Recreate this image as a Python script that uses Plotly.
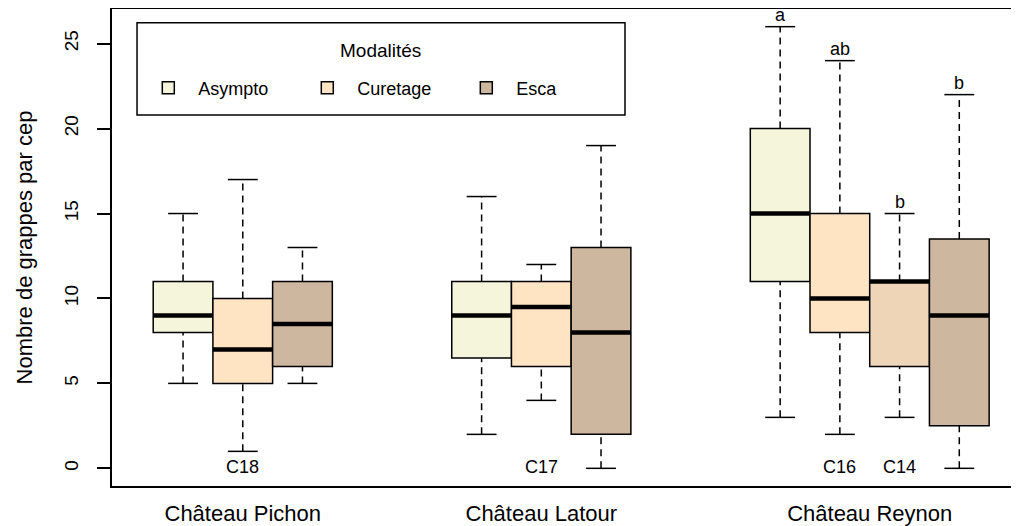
import plotly.graph_objects as go

# ---- data ----
sites = ["Château Pichon", "Château Latour", "Château Reynon"]
site_pos = [2, 7, 12.5]
modalities = ["Asympto", "Curetage", "Esca"]
legend_title = "Modalités"

# box positions per modality (Pichon, Latour, Reynon[, Reynon C14])
pos = {"Asympto": [1, 6, 11], "Curetage": [2, 7, 12, 13], "Esca": [3, 8, 14]}
box_colors = {"Asympto": ["#F5F5DC"] * 3,
              "Curetage": ["#FFE4C4", "#FFE4C4", "#FFE4C4", "#EED5B7"],
              "Esca": ["#CDB79E"] * 3}
lower = {"Asympto": [5, 2, 3], "Curetage": [1, 4, 2, 3], "Esca": [5, 0, 0]}
q1 = {"Asympto": [8, 6.5, 11], "Curetage": [5, 6, 8, 6], "Esca": [6, 2, 2.5]}
med = {"Asympto": [9, 9, 15], "Curetage": [7, 9.5, 10, 11], "Esca": [8.5, 8, 9]}
q3 = {"Asympto": [11, 11, 20], "Curetage": [10, 11, 15, 11], "Esca": [11, 13, 13.5]}
upper = {"Asympto": [15, 16, 26], "Curetage": [17, 12, 24, 15], "Esca": [13, 19, 22]}

# significance letters (Reynon)
letter_pos = [11, 12, 13, 14]
letter_val = [26, 24, 15, 22]
letter_txt = ["a", "ab", "b", "b"]

# clone labels
clone_pos = [2, 7, 12, 13]
clone_txt = ["C18", "C17", "C16", "C14"]

FONT = "Liberation Sans, Arial, sans-serif"
BOXW = 1.0
STAPLE = 0.25

fig = go.Figure()

for m in modalities:
    fig.add_trace(go.Bar(
        x=pos[m], y=[b - a for a, b in zip(q1[m], q3[m])], base=q1[m],
        width=BOXW, name=m,
        marker=dict(color=box_colors[m], line=dict(color="black", width=1.5)),
        hoverinfo="skip"))

wx, wy, sx, sy, mx, my = [], [], [], [], [], []
for m in modalities:
    for p, lo, a, md, b, hi in zip(pos[m], lower[m], q1[m], med[m], q3[m], upper[m]):
        wx += [p, p, None, p, p, None]
        wy += [lo, a, None, b, hi, None]
        sx += [p - STAPLE, p + STAPLE, None, p - STAPLE, p + STAPLE, None]
        sy += [lo, lo, None, hi, hi, None]
        mx += [p - BOXW / 2, p + BOXW / 2, None]
        my += [md, md, None]

fig.add_trace(go.Scatter(x=wx, y=wy, mode="lines", showlegend=False, hoverinfo="skip",
                         line=dict(color="black", width=1.5, dash="7px,5px")))
fig.add_trace(go.Scatter(x=sx, y=sy, mode="lines", showlegend=False, hoverinfo="skip",
                         line=dict(color="black", width=1.5)))
fig.add_trace(go.Scatter(x=mx, y=my, mode="lines", showlegend=False, hoverinfo="skip",
                         line=dict(color="black", width=4.5)))

for p, v, t in zip(letter_pos, letter_val, letter_txt):
    fig.add_annotation(x=p, y=v, text=t, showarrow=False, yanchor="middle", yshift=12,
                       font=dict(family=FONT, size=18, color="black"))
for p, t in zip(clone_pos, clone_txt):
    fig.add_annotation(x=p, y=0, text=t, showarrow=False, yanchor="middle", yshift=1,
                       font=dict(family=FONT, size=18, color="black"))

# legend frame and title (R-style boxed legend)
fig.add_shape(type="rect", xref="paper", yref="paper",
              x0=0.0276, x1=0.5656, y0=0.7778, y1=0.9713,
              line=dict(color="black", width=1.5), fillcolor="white", layer="above")
fig.add_annotation(xref="paper", yref="paper", x=0.2955, y=0.914, text=legend_title,
                   showarrow=False, xanchor="center", yanchor="middle",
                   font=dict(family=FONT, size=19, color="black"))

# page body has an 8px margin: figure is sized to fit the 1019x526 window
fig.update_layout(
    width=1011, height=518, autosize=False,
    margin=dict(l=104, r=0, t=1, b=40, autoexpand=False),
    paper_bgcolor="white", plot_bgcolor="white",
    barmode="overlay",
    font=dict(family=FONT, size=18, color="black"),
    legend=dict(orientation="h", x=0.029, y=0.8344, xanchor="left", yanchor="middle",
                borderwidth=0, bgcolor="rgba(0,0,0,0)",
                itemwidth=50, entrywidth=94, entrywidthmode="pixels",
                font=dict(family=FONT, size=18, color="black")),
    xaxis=dict(range=[-0.19, 15.0], showgrid=False, zeroline=False, automargin=False,
               showline=True, linecolor="black", linewidth=1.5, mirror=True,
               tickvals=site_pos, ticktext=sites, ticks="",
               tickfont=dict(family=FONT, size=22, color="black"),
               ticklabelstandoff=7),
    yaxis=dict(range=[-1.04, 27.04], showgrid=False, zeroline=False, automargin=False,
               showline=True, linecolor="black", linewidth=1.5, mirror=False,
               tickvals=[0, 5, 10, 15, 20, 25], ticks="outside", ticklen=13,
               tickwidth=1.5, tickcolor="black", tickangle=-90,
               tickfont=dict(family=FONT, size=19, color="black"),
               ticklabelstandoff=12,
               title=dict(text="Nombre de grappes par cep", standoff=22,
                          font=dict(family=FONT, size=22, color="black"))),
)

fig.write_html("out.html")
